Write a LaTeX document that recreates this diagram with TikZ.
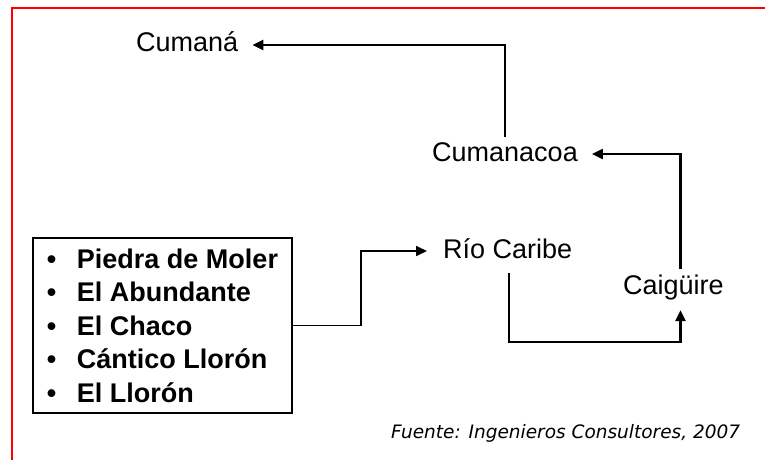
\documentclass[tikz,border=0pt]{standalone}
\usepackage{fontspec}
\setmainfont{Liberation Sans}
\newfontfamily\notefont{DejaVu Sans}
\usetikzlibrary{arrows.meta,calc}
\begin{document}
\begin{tikzpicture}[x=1pt,y=-1pt,
  lbl/.style={inner sep=0pt,text height=20pt,text depth=6pt,anchor=west,font=\fontsize{27}{32}\selectfont},
  arr/.style={line width=2.4pt,-{Triangle[length=11pt,width=10pt]}},
  thinarr/.style={line width=1.7pt,-{Triangle[length=11pt,width=10pt]}},
  listbox/.style={draw,line width=1.3pt,minimum width=259pt,minimum height=175pt,inner sep=0pt,align=left,font=\fontsize{27}{33.5}\selectfont\bfseries}]
\useasboundingbox (0,0) rectangle (765,460);
\fill[white] (0,0) rectangle (765,460);
\draw[red,line width=2pt] (12,462) -- (12,8) -- (767,8);

\node[lbl] (cum) at (136,45) {Cumaná};
\node[lbl] (cuc) at (432,154) {Cumanacoa};
\node[lbl] (rio) at (443,251) {Río Caribe};
\node[lbl] (cai) at (623,287) {Caigüire};

\node[listbox] (box) at (162.5,325.5) {%
\makebox[30pt][l]{•}Piedra de Moler\\
\makebox[30pt][l]{•}El Abundante\\
\makebox[30pt][l]{•}El Chaco\\
\makebox[30pt][l]{•}Cántico Llorón\\
\makebox[30pt][l]{•}El Llorón};

\node[inner sep=0pt,anchor=base west,font=\notefont\itshape\fontsize{18.5}{22}\selectfont] (src) at (391,438) {Fuente: Ingenieros Consultores, 2007};

\draw[thinarr] (box.east) -- ++(68,0) |- ([xshift=-16pt]rio.west);
\draw[arr] ([xshift=1pt,yshift=-9pt]rio.south) -- ++(0,69) -| ([xshift=7pt,yshift=-10pt]cai.south);
\draw[arr] ([xshift=7pt,yshift=5pt]cai.north) |- ([xshift=14pt]cuc.east);
\draw[arr] ([yshift=4pt]cuc.north) |- ([xshift=14pt]cum.east);
\end{tikzpicture}
\end{document}
